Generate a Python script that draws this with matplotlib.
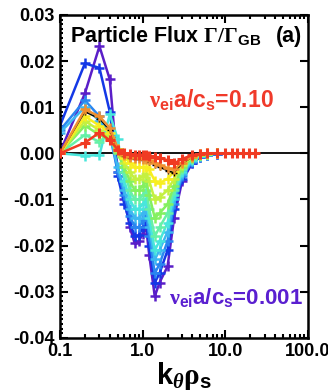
import numpy as np
import matplotlib
matplotlib.use("Agg")
import matplotlib.pyplot as plt
from matplotlib.ticker import MultipleLocator, LogLocator, NullFormatter

plt.rcParams['font.family'] = ['Liberation Sans', 'DejaVu Sans']
plt.rcParams['font.weight'] = 'bold'
plt.rcParams['axes.unicode_minus'] = False
plt.rcParams['mathtext.fontset'] = 'custom'
plt.rcParams['mathtext.rm'] = 'Liberation Serif'
plt.rcParams['mathtext.it'] = 'Liberation Serif:italic'
plt.rcParams['mathtext.bf'] = 'Liberation Sans:bold'

# k_theta rho_s grid
ky = [0.1, 0.2, 0.3, 0.4, 0.5, 0.6, 0.7, 0.8, 0.9, 1.0, 1.1, 1.2, 1.4, 1.6,
      2.0, 2.4, 3.0, 4.0, 5.0, 6.0, 8.0]
ky_red = ky + [10.0, 12.0, 14.0, 16.5, 19.5, 23.0]

# particle flux for each collision frequency (low -> high)
flux_purple = [0.0002, 0.013, 0.0232, 0.016, -0.004, -0.010, -0.016, -0.0195, -0.019, -0.0175,
               -0.016, -0.022, -0.031, -0.028, -0.0245, -0.014, -0.006, -0.002, -0.0008, -0.0004, -0.0001]
flux_blue = [0.006, 0.0195, 0.0185, 0.009, -0.005, -0.011, -0.015, -0.018, -0.0178, -0.016,
             -0.0150, -0.020, -0.028, -0.026, -0.021, -0.012, -0.0055, -0.002, -0.0008, -0.0004, -0.0001]
flux_ltblue = [0.005, 0.0115, 0.008, 0.004, -0.004, -0.009, -0.0135, -0.016, -0.016, -0.0145,
               -0.0135, -0.018, -0.026, -0.024, -0.019, -0.011, -0.005, -0.0018, -0.0007, -0.0003, -0.0001]
flux_sky = [0.0045, 0.010, 0.007, 0.004, -0.003, -0.008, -0.012, -0.014, -0.014, -0.013,
            -0.012, -0.016, -0.023, -0.021, -0.017, -0.010, -0.0045, -0.0016, -0.0006, -0.0003, 0.0]
flux_turq = [0.0, -0.0005, -0.0004, 0.0085, 0.003, -0.006, -0.010, -0.012, -0.012, -0.011,
             -0.010, -0.014, -0.021, -0.019, -0.015, -0.009, -0.004, -0.0014, -0.0005, -0.0002, 0.0]
flux_aqua = [0.0, 0.004, 0.0025, 0.0045, 0.001, -0.004, -0.008, -0.010, -0.010, -0.009,
             -0.008, -0.012, -0.018, -0.016, -0.013, -0.008, -0.0035, -0.0012, -0.0004, -0.0002, 0.0]
flux_green = [0.0, 0.006, 0.004, 0.003, 0.0, -0.003, -0.006, -0.008, -0.008, -0.007,
              -0.006, -0.009, -0.014, -0.013, -0.011, -0.007, -0.003, -0.001, -0.0004, -0.0001, 0.0]
flux_ygreen = [0.0, 0.007, 0.005, 0.0035, 0.0005, -0.002, -0.004, -0.0055, -0.0055, -0.005,
               -0.0045, -0.006, -0.010, -0.0095, -0.008, -0.0055, -0.0025, -0.0008, -0.0003, -0.0001, 0.0]
flux_yellow = [0.0, 0.008, 0.006, 0.0045, 0.001, -0.001, -0.002, -0.003, -0.003, -0.003,
               -0.003, -0.0035, -0.006, -0.0065, -0.0055, -0.004, -0.002, -0.0006, -0.0002, 0.0, 0.0]
flux_black = [0.0, 0.009, 0.0075, 0.005, 0.0008, -0.0005, -0.001, -0.0012, -0.0013, -0.0014,
              -0.0015, -0.0018, -0.0025, -0.003, -0.0038, -0.0042, -0.0022, -0.0008, -0.0002, 0.0, 0.0]
flux_orange = [0.0, 0.0095, 0.008, 0.0055, 0.001, -0.0003, -0.0008, -0.001, -0.001, -0.0012,
               -0.0013, -0.0015, -0.002, -0.0025, -0.0032, -0.0035, -0.002, -0.0007, -0.0002, 0.0, 0.0]
flux_red = [0.0, 0.0023, 0.0045, 0.0028, 0.0008, 0.0, -0.0002, -0.0003, -0.0003, -0.0003,
            -0.0004, -0.0005, -0.0008, -0.001, -0.0015, -0.0022, -0.0012, -0.0004, -0.0001, 0.0, 0.0,
            0.0, 0.0, 0.0, 0.0, 0.0, 0.0]

series = [
    (flux_purple, '#5a1ec8'),
    (flux_blue, '#1438e6'),
    (flux_ltblue, '#2a86f0'),
    (flux_sky, '#3cb8f0'),
    (flux_turq, '#48e6dc'),
    (flux_aqua, '#66f0a8'),
    (flux_green, '#84f060'),
    (flux_ygreen, '#c4f040'),
    (flux_yellow, '#f8ee20'),
]

yticks = [-0.04, -0.03, -0.02, -0.01, 0.0, 0.01, 0.02, 0.03]
ytick_labels = ['-0.04', '-0.03', '-0.02', '-0.01', '0.00', '0.01', '0.02', '0.03']
xticks = [0.1, 1.0, 10.0, 100.0]
xtick_labels = ['0.1', '1.0', '10.0', '100.0']

fig = plt.figure(figsize=(3.28, 3.92), dpi=100)
ax = fig.add_axes([0.183, 0.138, 0.756, 0.824])

ax.axhline(0.0, color='black', lw=1.3, zorder=1)

for vals, col in series:
    ax.plot(ky, vals, color=col, lw=1.8, marker='+', ms=7, mew=1.8, zorder=2)
ax.plot(ky, flux_black, color='black', lw=1.0, marker='+', ms=4, mew=1.0, zorder=2)
ax.plot(ky, flux_orange, color='#f09030', lw=1.8, marker='+', ms=7, mew=1.8, zorder=2)
ax.plot(ky_red, flux_red, color='#f03a22', lw=1.8, marker='+', ms=7, mew=2.2, zorder=3)

ax.set_xscale('log')
ax.set_xlim(0.1, 100.0)
ax.set_ylim(-0.04, 0.03)
ax.set_xticks(xticks)
ax.set_xticklabels(xtick_labels)
ax.xaxis.set_minor_locator(LogLocator(base=10, subs=np.arange(2, 10)))
ax.xaxis.set_minor_formatter(NullFormatter())
ax.set_yticks(yticks)
ax.set_yticklabels(ytick_labels)
ax.yaxis.set_minor_locator(MultipleLocator(0.001))

ax.tick_params(which='both', direction='in', top=True, right=True, labelsize=13, width=1.5)
ax.tick_params(which='major', length=6, pad=4)
ax.tick_params(which='minor', length=3)
ax.tick_params(axis='y', which='minor', right=False, length=2.5)
for sp in ax.spines.values():
    sp.set_linewidth(1.8)

ax.set_xlabel(r'$\mathbf{k}_{\theta}\mathrm{\rho}_{\mathbf{s}}$', fontsize=21, labelpad=0)

ax.text(0.04, 0.916, r'Particle Flux $\mathrm{\Gamma/\Gamma}_{\mathbf{GB}}$', transform=ax.transAxes,
        fontsize=15.5, fontweight='bold', ha='left', va='baseline')
ax.text(0.975, 0.916, '(a)', transform=ax.transAxes, fontsize=15.5, fontweight='bold',
        ha='right', va='baseline')
ax.text(0.36, 0.712, r'$\mathrm{\nu}_{\mathbf{ei}}$a/c$_{\mathbf{s}}$=0.10', transform=ax.transAxes,
        fontsize=16.5, fontweight='bold', color='#f03a2a', ha='left', va='baseline')
ax.text(0.44, 0.105, r'$\mathrm{\nu}_{\mathbf{ei}}$a/c$_{\mathbf{s}}$=0.001', transform=ax.transAxes,
        fontsize=16, fontweight='bold', color='#5a1fd0', ha='left', va='baseline')

fig.savefig('out.png', dpi=100)
